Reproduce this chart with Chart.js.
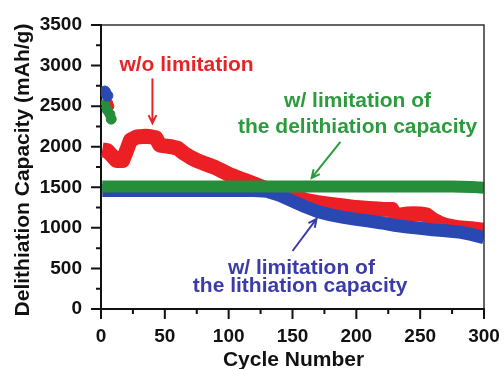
<!DOCTYPE html>
<html>
<head>
<meta charset="utf-8">
<script src="https://cdn.jsdelivr.net/npm/chart.js@4.4.1/dist/chart.umd.min.js"></script>
<style>
  html, body { margin: 0; padding: 0; background: #fff; }
  #wrap { width: 504px; height: 369px; }
</style>
</head>
<body>
<div id="wrap"><canvas id="capChart" width="504" height="369"></canvas></div>
<script>
// ---- data ----
var redCycles   = [1,5,8,12,17,20,23,28,35,40,43,46,50,55,60,65,70,75,80,85,90,95,100,105,110,115,120,125,130,140,150,160,170,180,190,200,210,220,228,230,235,240,245,250,255,260,265,270,280,290,300];
var redCapacity = [1960,1950,1900,1830,1830,1950,2080,2120,2130,2120,2110,2020,2010,2000,1980,1920,1870,1830,1800,1770,1740,1700,1660,1630,1600,1570,1540,1510,1480,1440,1400,1340,1310,1290,1270,1250,1240,1230,1225,1150,1160,1170,1175,1170,1160,1100,1060,1030,1000,990,970];

var blueCycles   = [1,10,20,30,40,50,60,70,80,90,100,110,120,130,140,150,160,170,180,190,200,210,220,230,240,250,260,270,280,290,300];
var blueCapacity = [1460,1460,1460,1460,1460,1460,1460,1460,1460,1460,1460,1460,1460,1450,1400,1330,1260,1200,1160,1130,1105,1085,1060,1030,1010,995,975,965,950,920,880];

var greenCycles   = [1,25,50,75,100,125,150,175,200,225,250,275,290,300];
var greenCapacity = [1510,1510,1510,1510,1510,1510,1510,1510,1510,1510,1510,1510,1505,1495];

// first (formation) cycles, drawn as loose points
var blueFirstCycles   = [3,5];
var blueFirstCapacity = [2680,2630];
var redFirstCycles    = [6,7];
var redFirstCapacity  = [2540,2500];
var greenFirstCycles   = [3,5,7,8];
var greenFirstCapacity = [2520,2450,2400,2340];

var xTicks = [0,50,100,150,200,250,300];
var yTicks = [0,500,1000,1500,2000,2500,3000,3500];
var xMinorTicks = [25,75,125,175,225,275];
var yMinorTicks = [250,750,1250,1750,2250,2750,3250];

var xTitle = 'Cycle Number';
var yTitle = 'Delithiation Capacity (mAh/g)';

var RED = 'rgb(236,32,36)', BLUE = 'rgb(42,72,178)', GREEN = 'rgb(38,142,58)';
var FONT = "'Liberation Sans', Arial, sans-serif";

function pts(xs, ys){
  var out = [];
  for (var i=0;i<xs.length;i++) out.push({x: xs[i], y: ys[i]});
  return out;
}

// labels + arrows, anchored in data units
var notes = [
  {text:'w/o limitation', x:67, y:3005, color:'rgb(232,36,40)'},
  {text:'w/ limitation of', x:201, y:2565, color:'rgb(44,155,62)'},
  {text:'the delithiation capacity', x:201, y:2235, color:'rgb(44,155,62)'},
  {text:'w/ limitation of', x:157, y:505, color:'rgb(60,60,168)'},
  {text:'the lithiation capacity', x:156, y:285, color:'rgb(60,60,168)'}
];
var arrows = [
  {x0:40.3, y0:2840, x1:40.3, y1:2290, color:'rgb(232,36,40)'},
  {x0:187.5, y0:2060, x1:165, y1:1615, color:'rgb(44,155,62)'},
  {x0:150, y0:715, x1:168.8, y1:1110, color:'rgb(60,60,168)'}
];

var decor = {
  id: 'decor',
  afterDraw: function(chart){
    var ctx = chart.ctx, a = chart.chartArea, x = chart.scales.x, y = chart.scales.y;
    ctx.save();
    // frame top / right
    ctx.strokeStyle = '#333';
    ctx.lineWidth = 1.5;
    ctx.beginPath();
    ctx.moveTo(a.left, a.top); ctx.lineTo(a.right, a.top); ctx.lineTo(a.right, a.bottom);
    ctx.stroke();

    // tick marks
    ctx.strokeStyle = '#111';
    ctx.lineWidth = 2;
    ctx.beginPath();
    yTicks.forEach(function(v){ var p = y.getPixelForValue(v); ctx.moveTo(a.left-10, p); ctx.lineTo(a.left+1, p); });
    yMinorTicks.forEach(function(v){ var p = y.getPixelForValue(v); ctx.moveTo(a.left-5, p); ctx.lineTo(a.left, p); });
    xTicks.forEach(function(v){ var p = x.getPixelForValue(v); ctx.moveTo(p, a.bottom-1); ctx.lineTo(p, a.bottom+10); });
    xMinorTicks.forEach(function(v){ var p = x.getPixelForValue(v); ctx.moveTo(p, a.bottom); ctx.lineTo(p, a.bottom+5); });
    ctx.stroke();

    // axis titles
    ctx.fillStyle = '#111';
    ctx.font = 'bold 21px ' + FONT;
    ctx.textAlign = 'center';
    ctx.textBaseline = 'middle';
    ctx.fillText(xTitle, (a.left + a.right)/2 + 1, 360);
    ctx.save();
    ctx.translate(23, 170);
    ctx.rotate(-Math.PI/2);
    ctx.fillText(yTitle, 0, 0);
    ctx.restore();

    // annotations
    ctx.font = 'bold 21px ' + FONT;
    notes.forEach(function(n){
      ctx.fillStyle = n.color;
      ctx.fillText(n.text, x.getPixelForValue(n.x), y.getPixelForValue(n.y));
    });
    ctx.lineWidth = 2;
    arrows.forEach(function(r){
      var px0 = x.getPixelForValue(r.x0), py0 = y.getPixelForValue(r.y0);
      var px1 = x.getPixelForValue(r.x1), py1 = y.getPixelForValue(r.y1);
      var ang = Math.atan2(py1-py0, px1-px0), h = 9;
      ctx.strokeStyle = r.color;
      ctx.beginPath();
      ctx.moveTo(px0, py0); ctx.lineTo(px1, py1);
      ctx.moveTo(px1 - h*Math.cos(ang-0.45), py1 - h*Math.sin(ang-0.45));
      ctx.lineTo(px1, py1);
      ctx.lineTo(px1 - h*Math.cos(ang+0.45), py1 - h*Math.sin(ang+0.45));
      ctx.stroke();
    });
    ctx.restore();
  }
};

var tickFont = {family: FONT, weight: 'bold', size: 19};
function plainTick(v){ return String(v); }

var ctx = document.getElementById('capChart').getContext('2d');
var myChart = new Chart(ctx, {
  type: 'scatter',
  data: {
    datasets: [
      {label:'blue first', data: pts(blueFirstCycles, blueFirstCapacity), backgroundColor: BLUE, borderColor: BLUE, pointRadius: 5.5, showLine: false},
      {label:'green first', data: pts(greenFirstCycles, greenFirstCapacity), backgroundColor: GREEN, borderColor: GREEN, pointRadius: 5, showLine: false},
      {label:'red first', data: pts(redFirstCycles, redFirstCapacity), backgroundColor: RED, borderColor: RED, pointRadius: 4, showLine: false},
      {label:'w/ limitation of the delithiation capacity', data: pts(greenCycles, greenCapacity), borderColor: GREEN, borderWidth: 12, pointRadius: 0, showLine: true, borderJoinStyle: 'round'},
      {label:'w/ limitation of the lithiation capacity', data: pts(blueCycles, blueCapacity), borderColor: BLUE, borderWidth: 13, pointRadius: 0, showLine: true, borderJoinStyle: 'round'},
      {label:'w/o limitation', data: pts(redCycles, redCapacity), borderColor: RED, borderWidth: 15, pointRadius: 0, showLine: true, borderJoinStyle: 'round'}
    ]
  },
  options: {
    responsive: false,
    animation: false,
    devicePixelRatio: 1,
    layout: { padding: {left: 0, right: 20, top: 25, bottom: 0} },
    plugins: { legend: {display: false}, tooltip: {enabled: false} },
    scales: {
      x: {
        type: 'linear', min: 0, max: 300,
        afterBuildTicks: function(s){ s.ticks = xTicks.map(function(v){ return {value: v}; }); },
        afterFit: function(s){ s.height = 60; s.paddingLeft = 0; s.paddingRight = 0; },
        grid: {display: false, drawTicks: false},
        border: {display: true, color: '#111', width: 2},
        ticks: {color: '#111', font: tickFont, padding: 16, maxRotation: 0, autoSkip: false, callback: plainTick}
      },
      y: {
        type: 'linear', min: 0, max: 3500,
        afterBuildTicks: function(s){ s.ticks = yTicks.map(function(v){ return {value: v}; }); },
        afterFit: function(s){ s.width = 101; s.paddingTop = 0; s.paddingBottom = 0; },
        grid: {display: false, drawTicks: false},
        border: {display: true, color: '#111', width: 2},
        ticks: {color: '#111', font: tickFont, padding: 19, autoSkip: false, callback: plainTick}
      }
    }
  },
  plugins: [decor]
});
</script>
</body>
</html>
